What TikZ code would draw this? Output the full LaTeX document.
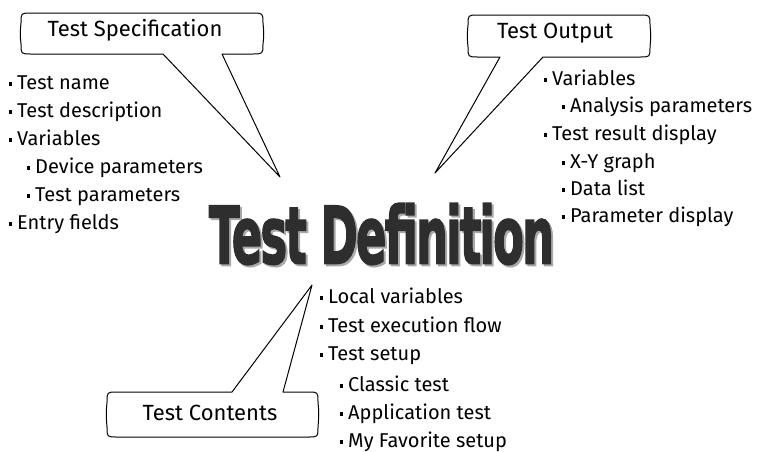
\documentclass[tikz,border=0pt]{standalone}
\usepackage{fontspec}
\setmainfont{Fira Sans}
\newfontfamily\heavyfont{DejaVu Sans}[BoldFeatures={FakeBold=2.5}, LetterSpace=-4]
\usetikzlibrary{calc}
\definecolor{titlegray}{HTML}{2E2E2E}
\definecolor{shadowgray}{HTML}{A8A8A8}
\newcommand\bul{\raisebox{3.5pt}{\rule{3pt}{4pt}}\hspace{5pt}}
\newcommand\bigtitle{\resizebox{345pt}{60pt}{\heavyfont\bfseries Test Definition}}
\tikzset{
  item/.style={anchor=base west, inner sep=0pt, font=\fontsize{20}{22}\selectfont},
  calltext/.style={inner sep=0pt, font=\fontsize{22}{24}\selectfont},
  callout/.style={draw=black, fill=white, line width=1pt, line join=round},
}
\begin{document}
\begin{tikzpicture}[x=1pt,y=-1pt]
\useasboundingbox (0,0) rectangle (763,451);

% ---------- callout 1: Test Specification ----------
\coordinate (tipA) at (280,177);
\draw[callout] (163,54) -- (tipA) -- (222,54)
  -- (252,54) .. controls (263,54) .. (263,44)
  .. controls (264,34) .. (263,23) .. controls (263,13) .. (252,13)
  -- (31,13) .. controls (21,13) .. (21,23)
  .. controls (20,34) .. (21,44) .. controls (21,54) .. (31,54) -- cycle;
\node[calltext] (spec) at (135,30) {Test Specification};

% ---------- callout 2: Test Output ----------
\coordinate (tipB) at (435,173);
\draw[callout] (500,57) -- (tipB) -- (543,57)
  -- (640,57) .. controls (650,57) .. (650,47)
  .. controls (651,36) .. (650,25) .. controls (650,15) .. (640,15)
  -- (478,15) .. controls (468,15) .. (468,25)
  .. controls (467,36) .. (468,47) .. controls (468,57) .. (478,57) -- cycle;
\node[calltext] (outp) at (555,33) {Test Output};

% ---------- callout 3: Test Contents ----------
\coordinate (tipC) at (312,285);
\draw[callout] (283,392) -- (tipC) -- (232,392)
  -- (117,392) .. controls (107,392) .. (107,402)
  .. controls (106,414) .. (107,427) .. controls (107,437) .. (117,437)
  -- (308,437) .. controls (318,437) .. (318,427)
  .. controls (319,414) .. (318,402) .. controls (318,392) .. (308,392) -- cycle;
\node[calltext] (cont) at (210,413) {Test Contents};

% ---------- title with drop shadow ----------
\node[inner sep=0pt] (title) at (381.5,235)
  {\rlap{\hspace{2pt}\raisebox{-2pt}{\textcolor{shadowgray}{\bigtitle}}}\textcolor{titlegray}{\bigtitle}};

% ---------- left list ----------
\node[item] (l1) at (9,89)  {\bul Test name};
\node[item] (l2) at (9,117) {\bul Test description};
\node[item] (l3) at (9,145) {\bul Variables};
\node[item] (l4) at (27,173) {\bul Device parameters};
\node[item] (l5) at (27,201) {\bul Test parameters};
\node[item] (l6) at (9,229) {\bul Entry fields};

% ---------- right list ----------
\node[item] (r1) at (544,85)  {\bul Variables};
\node[item] (r2) at (562,112) {\bul Analysis parameters};
\node[item] (r3) at (544,140) {\bul Test result display};
\node[item] (r4) at (562,168) {\bul X-Y graph};
\node[item] (r5) at (562,195) {\bul Data list};
\node[item] (r6) at (562,222) {\bul Parameter display};

% ---------- bottom list ----------
\node[item] (b1) at (320,303) {\bul Local variables};
\node[item] (b2) at (320,332) {\bul Test execution flow};
\node[item] (b3) at (320,360) {\bul Test setup};
\node[item] (b4) at (340,391) {\bul Classic test};
\node[item] (b5) at (340,419) {\bul Application test};
\node[item] (b6) at (340,447) {\bul My Favorite setup};
\end{tikzpicture}
\end{document}
